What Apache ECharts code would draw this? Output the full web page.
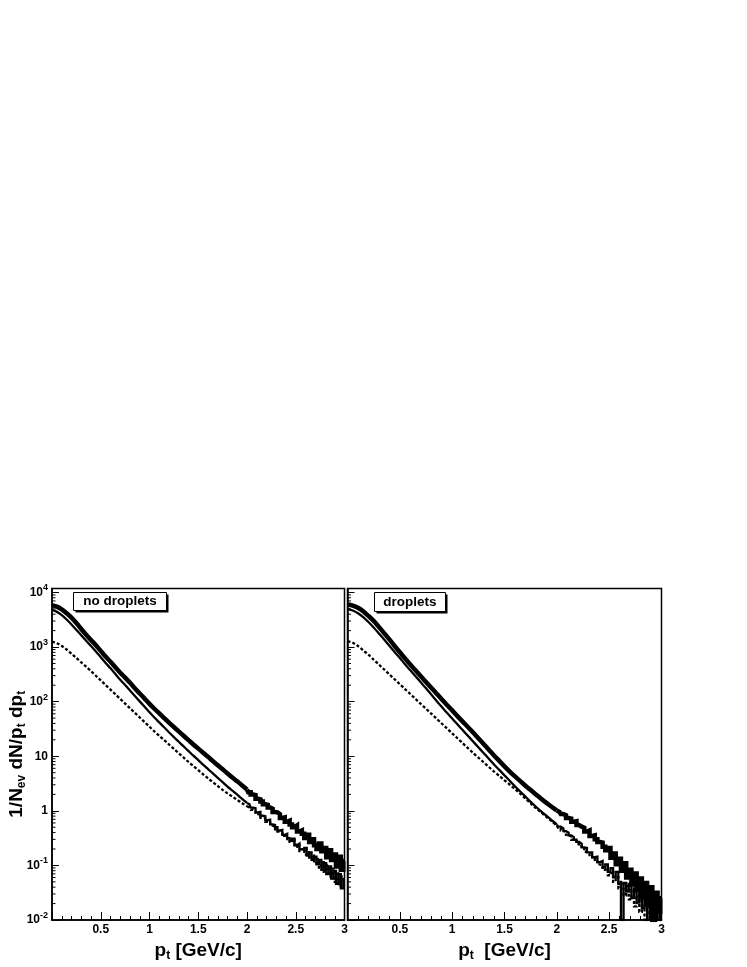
<!DOCTYPE html>
<html>
<head>
<meta charset="UTF-8">
<title>pt spectra</title>
<script src="https://cdn.jsdelivr.net/npm/echarts@6/dist/echarts.min.js"></script>
<style>
  html, body { margin: 0; padding: 0; background: #fff; }
  #chart { width: 747px; height: 967px; }
</style>
</head>
<body>
<div id="chart"></div>
<script>
// pt bins [GeV/c]; coarse up to 2 GeV, finer in the noisy tail
var pt = [0,0.05,0.1,0.15,0.2,0.25,0.3,0.35,0.4,0.45,0.5,0.55,0.6,0.65,0.7,0.75,0.8,0.85,0.9,0.95,
  1.0,1.05,1.1,1.15,1.2,1.25,1.3,1.35,1.4,1.45,1.5,1.55,1.6,1.65,1.7,1.75,1.8,1.85,1.9,1.95,2.0,
  2.025,2.05,2.075,2.1,2.125,2.15,2.175,2.2,2.225,2.25,2.275,2.3,2.325,2.35,2.375,2.4,2.425,2.45,2.475,2.5,
  2.525,2.55,2.575,2.6,2.625,2.65,2.675,2.7,2.725,2.75,2.775,2.8,2.825,2.85,2.875,2.9,2.925,2.95,2.975,3.0];
var tailStart = 40; // index of pt = 2.0, where the noisy tail begins

// log10(1/Nev dN/pt dpt)
// left panel: no droplets
var noDropTop = [3.77,3.74,3.69,3.62,3.54,3.44,3.33,3.225,3.13,3.035,2.93,2.825,2.73,2.63,2.53,2.44,2.345,2.245,2.15,2.055,
  1.96,1.87,1.785,1.70,1.615,1.535,1.455,1.375,1.295,1.215,1.14,1.065,0.99,0.91,0.835,0.76,0.685,0.61,0.54,0.465,0.39,
  0.34,0.30,0.29,0.22,0.21,0.17,0.12,0.11,0.06,0.04,-0.02,-0.03,-0.06,-0.13,-0.12,-0.20,-0.18,-0.25,-0.30,-0.27,
  -0.38,-0.36,-0.42,-0.50,-0.44,-0.57,-0.52,-0.63,-0.70,-0.60,-0.74,-0.68,-0.85,-0.72,-0.90,-0.80,-1.02,-0.84,-1.08,-0.92];
var noDropMid = [3.68,3.645,3.585,3.505,3.415,3.315,3.215,3.115,3.02,2.92,2.815,2.71,2.61,2.505,2.40,2.305,2.205,2.105,2.005,1.905,
  1.805,1.71,1.62,1.53,1.44,1.35,1.265,1.18,1.095,1.01,0.93,0.845,0.765,0.685,0.605,0.525,0.445,0.37,0.295,0.22,0.145,
  0.12,0.06,0.05,-0.03,-0.02,-0.09,-0.10,-0.17,-0.16,-0.25,-0.26,-0.30,-0.36,-0.35,-0.44,-0.42,-0.50,-0.55,-0.51,-0.63,
  -0.60,-0.70,-0.72,-0.68,-0.82,-0.76,-0.90,-0.84,-0.98,-0.90,-1.08,-0.96,-1.16,-1.02,-1.24,-1.10,-1.34,-1.16,-1.42,-1.25];
var noDropDash = [3.10,3.07,3.02,2.955,2.88,2.80,2.72,2.64,2.56,2.475,2.39,2.305,2.22,2.135,2.05,1.965,1.88,1.795,1.71,1.625,
  1.54,1.455,1.375,1.295,1.215,1.135,1.055,0.975,0.895,0.82,0.745,0.67,0.595,0.525,0.455,0.385,0.32,0.26,0.20,0.14,0.085,
  0.06,0.02,-0.01,-0.06,-0.07,-0.13,-0.13,-0.20,-0.21,-0.27,-0.29,-0.34,-0.38,-0.40,-0.46,-0.47,-0.52,-0.57,-0.55,-0.66,
  -0.62,-0.74,-0.70,-0.80,-0.76,-0.88,-0.82,-0.96,-0.88,-1.04,-0.94,-1.12,-1.00,-1.20,-1.06,-1.30,-1.12,-1.38,-1.20,-1.30];
// right panel: droplets
var dropTop = [3.78,3.76,3.72,3.655,3.57,3.48,3.37,3.255,3.14,3.02,2.905,2.79,2.68,2.575,2.465,2.36,2.255,2.15,2.045,1.94,
  1.84,1.735,1.635,1.535,1.435,1.33,1.225,1.12,1.015,0.915,0.815,0.72,0.63,0.545,0.46,0.38,0.30,0.22,0.145,0.075,0.005,
  -0.02,-0.06,-0.08,-0.13,-0.14,-0.20,-0.19,-0.26,-0.29,-0.31,-0.38,-0.36,-0.46,-0.45,-0.52,-0.57,-0.58,-0.66,-0.72,-0.68,
  -0.86,-0.78,-0.98,-0.88,-1.10,-0.96,-1.22,-1.08,-1.35,-1.15,-1.45,-1.24,-1.58,-1.32,-1.72,-1.40,-2.0,-1.50,-1.85,-1.60];
var dropMid = [3.695,3.67,3.62,3.55,3.46,3.36,3.25,3.14,3.025,2.91,2.80,2.685,2.575,2.465,2.355,2.245,2.13,2.015,1.905,1.795,
  1.69,1.585,1.48,1.375,1.27,1.165,1.06,0.955,0.85,0.75,0.65,0.55,0.45,0.355,0.26,0.165,0.075,-0.01,-0.09,-0.17,-0.25,
  -0.29,-0.32,-0.37,-0.40,-0.45,-0.48,-0.53,-0.57,-0.60,-0.67,-0.68,-0.76,-0.76,-0.85,-0.84,-0.94,-0.92,-1.04,-0.98,-1.12,
  -1.05,-1.22,-1.12,-1.34,-2.0,-1.32,-1.48,-1.34,-1.60,-1.42,-1.68,-1.48,-1.78,-1.55,-2.0,-1.62,-1.85,-1.70,-2.0,-1.78];
var dropDash = [3.11,3.08,3.02,2.94,2.86,2.77,2.68,2.59,2.50,2.41,2.32,2.23,2.14,2.05,1.96,1.87,1.78,1.69,1.60,1.51,
  1.42,1.33,1.24,1.15,1.06,0.975,0.89,0.805,0.72,0.64,0.56,0.48,0.40,0.315,0.225,0.135,0.05,-0.03,-0.11,-0.19,-0.27,
  -0.31,-0.36,-0.39,-0.44,-0.47,-0.53,-0.55,-0.61,-0.65,-0.69,-0.75,-0.78,-0.84,-0.88,-0.92,-0.98,-1.00,-1.08,-1.06,-1.18,
  -1.14,-1.30,-1.22,-1.42,-1.30,-1.55,-1.38,-1.62,-1.46,-1.75,-1.55,-1.85,-1.62,-2.0,-1.70,-1.88,-1.78,-2.0,-1.85,-2.0];

var yDecades = [-2, -1, 0, 1, 2, 3, 4];
var xTickLabels = ['0.5', '1', '1.5', '2', '2.5', '3'];
var panelLabels = ['no droplets', 'droplets'];

var FONT = '"Liberation Sans", Arial, Helvetica, sans-serif';
var chart = echarts.init(document.getElementById('chart'));

function toPairs(ys, from, to) {
  var out = [];
  for (var i = from; i <= to; i++) out.push([pt[i], ys[i]]);
  return out;
}

// log axis minor ticks: 2..9 x 10^k
var minorTickPos = [];
for (var d = 0; d < yDecades.length - 1; d++) {
  for (var m = 2; m <= 9; m++) minorTickPos.push([0, yDecades[d] + Math.log10(m)]);
}

function yLabel(v) {
  if (Math.abs(v - Math.round(v)) > 1e-6) return '';
  v = Math.round(v);
  if (v === 0) return '{b|1}';
  if (v === 1) return '{b|10}';
  return '{b|10}{e|' + v + '}';
}
function xLabel(v) {
  var s = String(+v.toFixed(2));
  return xTickLabels.indexOf(s) >= 0 ? s : '';
}

var labelRich = {
  b: { fontSize: 12, fontWeight: 'bold', fontFamily: FONT, color: '#000' },
  e: { fontSize: 9, fontWeight: 'bold', fontFamily: FONT, color: '#000', padding: [0, 0, 9, 0] }
};
var titleRich = {
  n: { fontSize: 19, fontWeight: 'bold', fontFamily: FONT, color: '#000' },
  s: { fontSize: 12, fontWeight: 'bold', fontFamily: FONT, color: '#000', padding: [11, 0, 0, 0] }
};

function makeX(idx, name) {
  return {
    type: 'value', gridIndex: idx, min: 0, max: 3, interval: 0.5,
    axisLine: { show: true, onZero: false, lineStyle: { color: '#000', width: 1.5 } },
    axisTick: { inside: true, length: 8, lineStyle: { color: '#000', width: 1 } },
    minorTick: { show: true, splitNumber: 5, length: 4, lineStyle: { color: '#000', width: 1 } },
    splitLine: { show: false },
    axisLabel: { formatter: xLabel, margin: 4, color: '#000', fontSize: 12, fontWeight: 'bold', fontFamily: FONT },
    name: name, nameLocation: 'middle', nameGap: 19,
    nameTextStyle: { rich: titleRich }
  };
}
function makeY(idx, showLabels) {
  return {
    type: 'value', gridIndex: idx, min: -2, max: 4.073, interval: 1,
    axisLine: { show: true, onZero: false, lineStyle: { color: '#000', width: 1.5 } },
    axisTick: { inside: true, length: 7, lineStyle: { color: '#000', width: 1 } },
    splitLine: { show: false },
    axisLabel: { show: showLabels, formatter: yLabel, margin: 4, rich: labelRich },
    name: showLabels ? '{n|1/N}{s|ev}{n| dN/p}{s|t}{n| dp}{s|t}' : '',
    nameLocation: 'middle', nameRotate: 90, nameGap: 24, nameMoveOverlap: false,
    nameTextStyle: { rich: titleRich }
  };
}

function curves(idx, top, mid, dash) {
  var base = { type: 'line', xAxisIndex: idx, yAxisIndex: idx, showSymbol: false, silent: true, animation: false };
  var styles = [
    [dash, { color: '#000', width: 2.3, type: [3, 2] }, 2],
    [mid, { color: '#000', width: 2.3 }, 3],
    [top, { color: '#000', width: 4.5 }, 4]
  ];
  var out = [];
  styles.forEach(function (s) {
    // smooth spectrum at low pt, histogram steps in the fluctuating tail
    out.push(Object.assign({}, base, { data: toPairs(s[0], 0, tailStart), smooth: 0.3, lineStyle: s[1], z: s[2] }));
    out.push(Object.assign({}, base, {
      data: toPairs(s[0], tailStart, pt.length - 1), step: 'middle',
      lineStyle: Object.assign({ join: 'miter', cap: 'butt' }, s[1]), z: s[2]
    }));
  });
  out.push({
    type: 'custom', xAxisIndex: idx, yAxisIndex: idx, data: minorTickPos, silent: true, animation: false,
    renderItem: function (params, api) {
      var p = api.coord([api.value(0), api.value(1)]);
      return { type: 'line', shape: { x1: p[0], y1: p[1], x2: p[0] + 3.5, y2: p[1] },
               style: { stroke: '#000', lineWidth: 1 } };
    }
  });
  return out;
}

function legendBox(x, y, w, h, text) {
  return {
    type: 'group', left: x, top: y, children: [
      { type: 'rect', shape: { x: 2, y: 2, width: w, height: h }, style: { fill: '#000' } },
      { type: 'rect', shape: { x: 0, y: 0, width: w, height: h }, style: { fill: '#fff', stroke: '#000', lineWidth: 1 } },
      { type: 'text', x: w / 2, y: h / 2, style: { text: text, fill: '#000', font: 'bold 13.5px ' + FONT, align: 'center', verticalAlign: 'middle' } }
    ]
  };
}

var gridBase = { show: true, borderColor: '#000', borderWidth: 1.5, backgroundColor: 'transparent', containLabel: false };

chart.setOption({
  animation: false,
  grid: [
    Object.assign({ left: 52, right: 402.5, top: 588.5, bottom: 47 }, gridBase),
    Object.assign({ left: 347.5, right: 85.5, top: 588.5, bottom: 47 }, gridBase)
  ],
  xAxis: [makeX(0, '{n|p}{s|t}{n| [GeV/c]}'), makeX(1, '{n|p}{s|t}{n|  [GeV/c]}')],
  yAxis: [makeY(0, true), makeY(1, false)],
  series: curves(0, noDropTop, noDropMid, noDropDash).concat(curves(1, dropTop, dropMid, dropDash)),
  graphic: [
    legendBox(73, 592, 93, 18, panelLabels[0]),
    legendBox(374, 592, 71, 19, panelLabels[1])
  ]
});
</script>
</body>
</html>
